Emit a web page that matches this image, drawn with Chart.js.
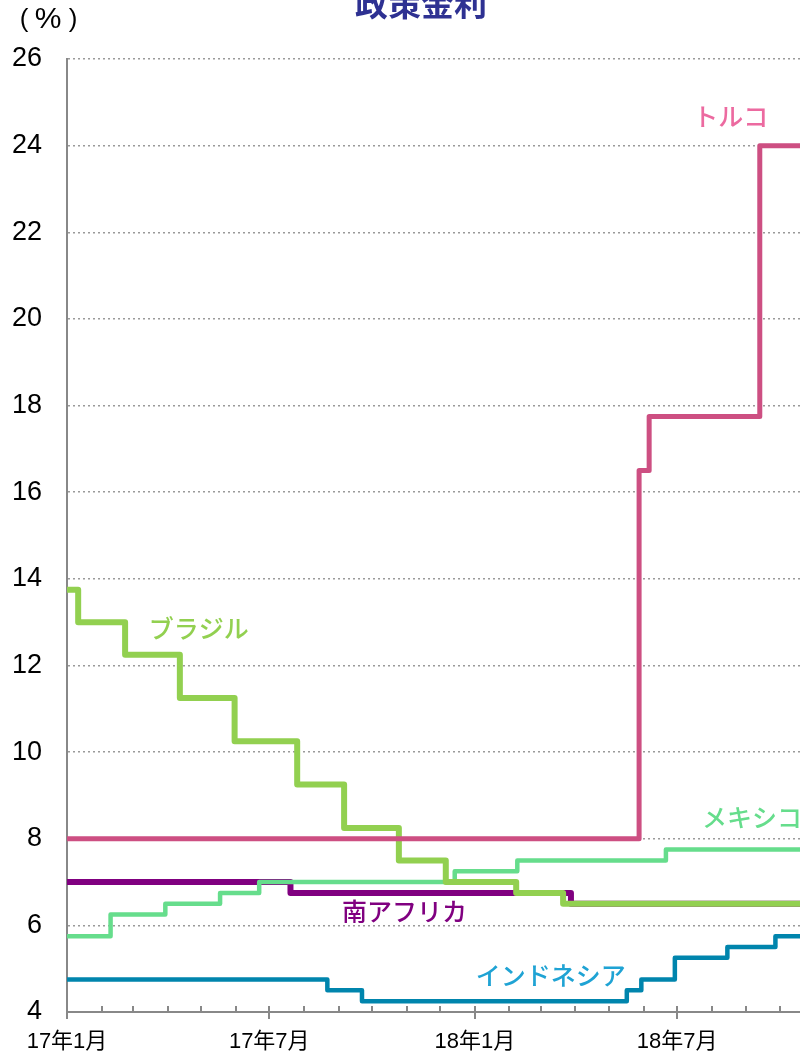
<!DOCTYPE html>
<html>
<head>
<meta charset="utf-8">
<script src="https://cdn.jsdelivr.net/npm/chart.js@4"></script>
<style>
	html, body { margin: 0; padding: 0; background: #fff; }
	#canvas_box { width: 800px; height: 1055px; }
</style>
</head>
<body>
<div id="canvas_box"><canvas id="my_chart"></canvas></div>
<script>
// Rate change dates and the new policy rate (%)
const turkey_dates = ['2017-01-01', '2018-05-28', '2018-06-06', '2018-09-13'];
const turkey_rates = [8.00, 16.50, 17.75, 24.00];

const brazil_dates = ['2017-01-01', '2017-01-11', '2017-02-22', '2017-04-12', '2017-05-31', '2017-07-26',
	'2017-09-06', '2017-10-25', '2017-12-06', '2018-02-07', '2018-03-21'];
const brazil_rates = [13.75, 13.00, 12.25, 11.25, 10.25, 9.25, 8.25, 7.50, 7.00, 6.75, 6.50];

const mexico_dates = ['2017-01-01', '2017-02-09', '2017-03-30', '2017-05-18', '2017-06-22', '2017-12-14',
	'2018-02-08', '2018-06-21'];
const mexico_rates = [5.75, 6.25, 6.50, 6.75, 7.00, 7.25, 7.50, 7.75];

const safrica_dates = ['2017-01-01', '2017-07-20', '2018-03-28'];
const safrica_rates = [7.00, 6.75, 6.50];

const indonesia_dates = ['2017-01-01', '2017-08-22', '2017-09-22', '2018-05-17', '2018-05-30', '2018-06-29',
	'2018-08-15', '2018-09-27'];
const indonesia_rates = [4.75, 4.50, 4.25, 4.50, 4.75, 5.25, 5.50, 5.75];

// Axis
const end_date = '2018-10-19';
const y_ticks = [4, 6, 8, 10, 12, 14, 16, 18, 20, 22, 24, 26];
const month_dates = ['2017-01-01', '2017-02-01', '2017-03-01', '2017-04-01', '2017-05-01', '2017-06-01',
	'2017-07-01', '2017-08-01', '2017-09-01', '2017-10-01', '2017-11-01', '2017-12-01',
	'2018-01-01', '2018-02-01', '2018-03-01', '2018-04-01', '2018-05-01', '2018-06-01',
	'2018-07-01', '2018-08-01', '2018-09-01', '2018-10-01'];
const month_labels = ['17年1月', '', '', '', '', '', '17年7月', '', '', '', '', '',
	'18年1月', '', '', '', '', '', '18年7月', '', '', ''];

// Series name labels, placed in data units [date, rate]
const series_names = ['トルコ', 'ブラジル', 'メキシコ', '南アフリカ', 'インドネシア'];
const name_points = [['2018-08-18', 24.68], ['2017-04-29', 12.86], ['2018-09-06', 8.48],
	['2017-10-30', 6.33], ['2018-03-10', 4.85]];

function day_of(s) {
	const p = s.split('-').map(Number);
	return (Date.UTC(p[0], p[1] - 1, p[2]) - Date.UTC(2017, 0, 1)) / 86400000;
}

const END_DAY = day_of(end_date);

function make_points(dates, rates) {
	const pts = dates.map((d, i) => ({ x: day_of(d), y: rates[i] }));
	pts.push({ x: END_DAY, y: rates[rates.length - 1] });
	return pts;
}

const month_days = month_dates.map(day_of);

const line_colors = ['#cd4f82', '#92d050', '#66dd8c', '#800080', '#0085ad'];
const text_colors = ['#ec6aa0', '#92d050', '#66dd8c', '#800080', '#1fa3d4'];

const label_font = "'Liberation Sans', 'Noto Sans CJK JP', sans-serif";
const cjk_font = "'Noto Sans CJK JP', sans-serif";

// Month tick marks, series names, title
const extras = {
	id: 'extras',
	afterDraw(chart) {
		const ctx = chart.ctx;
		const xs = chart.scales.x;
		const ys = chart.scales.y;
		const base = chart.chartArea.bottom;

		ctx.save();
		ctx.strokeStyle = '#888';
		ctx.lineWidth = 2;
		month_days.forEach((d, i) => {
			const px = Math.round(xs.getPixelForValue(d));
			ctx.beginPath();
			if (month_labels[i]) {
				ctx.moveTo(px, base - 6);
				ctx.lineTo(px, base + 7);
			} else {
				ctx.moveTo(px, base - 6);
				ctx.lineTo(px, base);
			}
			ctx.stroke();
		});

		ctx.textAlign = 'center';
		ctx.textBaseline = 'middle';
		ctx.font = '500 25px ' + cjk_font;
		series_names.forEach((name, i) => {
			ctx.fillStyle = text_colors[i];
			ctx.fillText(name, xs.getPixelForValue(day_of(name_points[i][0])), ys.getPixelForValue(name_points[i][1]));
		});

		ctx.fillStyle = '#2e3192';
		ctx.font = 'bold 33px ' + cjk_font;
		ctx.fillText('政策金利', 421, 3);

		// unit "(%)", spaced like the original
		ctx.fillStyle = '#000';
		ctx.font = '26px ' + label_font;
		ctx.fillText('(', 24, 20);
		ctx.fillText(')', 73, 20);
		ctx.font = '30px ' + label_font;
		ctx.fillText('%', 48, 20);
		ctx.restore();
	}
};

function line_set(label, dates, rates, i, width) {
	return {
		label: label,
		data: make_points(dates, rates),
		borderColor: line_colors[i],
		backgroundColor: line_colors[i],
		borderWidth: width,
		stepped: 'before',
		pointRadius: 0,
		fill: false,
		borderJoinStyle: 'round',
		order: i
	};
}

Chart.defaults.font.family = label_font;

const chart = new Chart(document.getElementById('my_chart'), {
	type: 'line',
	data: {
		datasets: [
			line_set('トルコ', turkey_dates, turkey_rates, 0, 5),
			line_set('ブラジル', brazil_dates, brazil_rates, 1, 6),
			line_set('メキシコ', mexico_dates, mexico_rates, 2, 4.5),
			line_set('南アフリカ', safrica_dates, safrica_rates, 3, 6),
			line_set('インドネシア', indonesia_dates, indonesia_rates, 4, 4.5)
		]
	},
	options: {
		responsive: true,
		maintainAspectRatio: false,
		animation: false,
		layout: { padding: { top: 59, right: 0, left: 0, bottom: 0 } },
		plugins: {
			legend: { display: false },
			tooltip: { enabled: false },
			title: { display: false }
		},
		scales: {
			x: {
				type: 'linear',
				min: 0,
				max: END_DAY,
				afterBuildTicks: s => { s.ticks = month_days.map(v => ({ value: v })); },
				afterFit: s => { s.height = 43; },
				ticks: {
					autoSkip: false,
					maxRotation: 0,
					padding: 17,
					color: '#000',
					font: { size: 22, family: label_font },
					callback: (v, i) => month_labels[i]
				},
				grid: { display: false, drawTicks: false },
				border: { display: true, color: '#888', width: 2 }
			},
			y: {
				min: 4,
				max: 26,
				afterBuildTicks: s => { s.ticks = y_ticks.map(v => ({ value: v })); },
				afterFit: s => { s.width = 67; },
				ticks: {
					padding: 25,
					color: '#000',
					font: { size: 27, family: label_font }
				},
				grid: { color: '#9a9a9a', lineWidth: 1.5, drawTicks: false },
				border: { display: true, color: '#888', width: 2, dash: [2, 3] }
			}
		}
	},
	plugins: [extras]
});
</script>
</body>
</html>
